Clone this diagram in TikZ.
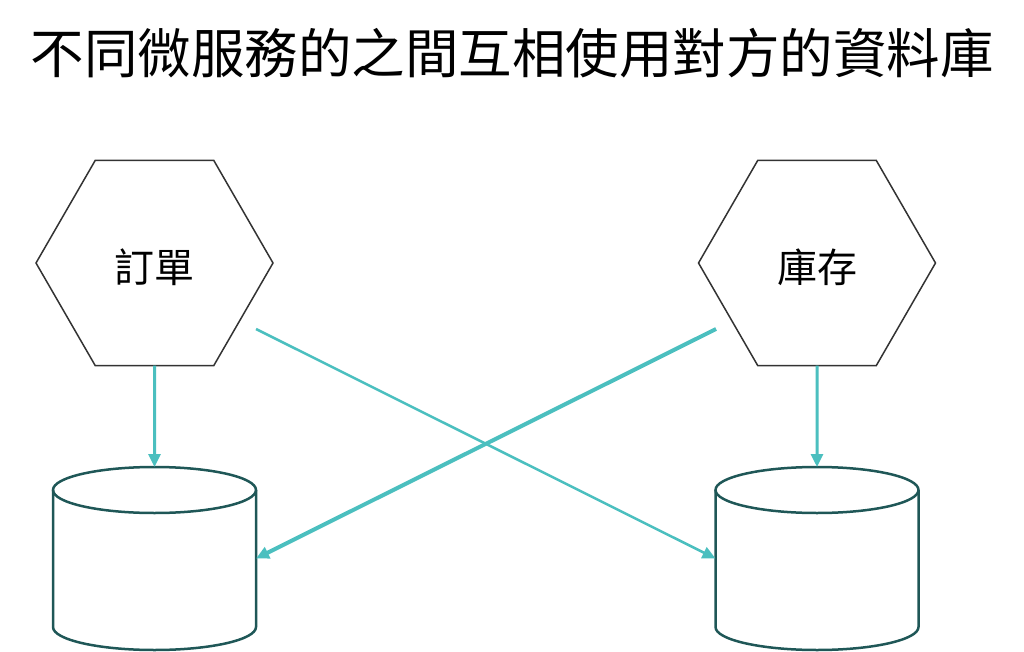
\documentclass[tikz,border=0pt]{standalone}
\usepackage{fontspec}
\setmainfont{Noto Sans CJK TC}
\usetikzlibrary{shapes.geometric,arrows.meta,calc}
\definecolor{linkteal}{HTML}{4BBFBF}
\definecolor{dbteal}{HTML}{1F5757}
\begin{document}
\begin{tikzpicture}[x=1pt,y=-1pt,
        svc/.style={draw=black!80,line width=1.5pt,fill=white,regular polygon,regular polygon sides=6,
            minimum size=237pt,inner sep=0pt,outer sep=0pt,font=\fontsize{40}{42}\selectfont},
        db/.style={minimum width=203pt,minimum height=183pt,inner sep=0pt,outer sep=0pt},
        dbline/.style={draw=dbteal,line width=2.5pt},
        link/.style={draw=linkteal,-{Triangle[length=13pt,width=12pt]}}]
        \useasboundingbox (0,0) rectangle (1024,652);
        % title
            \node (title) at (512,53) {\fontsize{53.5}{56}\selectfont 不同微服務的之間互相使用對方的資料庫};
        % services and databases
            \foreach \n/\x/\t in {order/154.5/訂單,stock/817/庫存}{
                \node[svc] (\n) at (\x,263) {\raisebox{-19pt}[0pt][0pt]{\t}};
                \node[db] (\n db) at (\x,558.5) {};
                \draw[dbline] ($(\n db.north)+(0,23)$) ellipse [x radius=101.5, y radius=23];
                \draw[dbline] ($(\n db.north west)+(0,23)$) -- ($(\n db.south west)+(0,-23)$)
                    arc [start angle=180, end angle=0, x radius=101.5, y radius=23]
                    -- ($(\n db.north east)+(0,23)$);
            }
        % own database
            \foreach \n in {order,stock}{
                \draw[link,line width=3pt] (\n.south) -- (\n db.north);
            }
        % crossing
            \coordinate (orderout) at (256,329);
            \coordinate (stockout) at (716,329);
            \draw[link,line width=2.5pt] (orderout) -- (stockdb.west);
            \draw[link,line width=4pt] (stockout) -- (orderdb.east);
\end{tikzpicture}
\end{document}
